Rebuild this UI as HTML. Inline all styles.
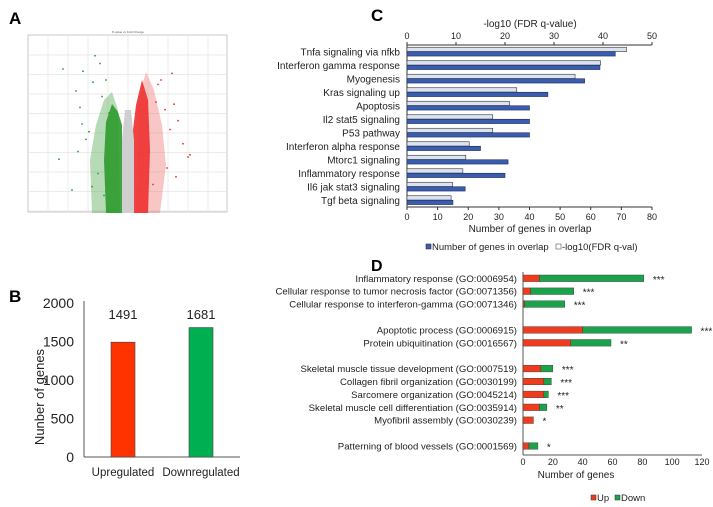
<!DOCTYPE html>
<html><head><meta charset="utf-8"><style>
body{margin:0;background:#fff;width:713px;height:507px;overflow:hidden;font-family:"Liberation Sans",Arial,sans-serif}
svg{display:block}
</style></head><body>
<svg id="s" width="713" height="507" viewBox="0 0 713 507" xmlns="http://www.w3.org/2000/svg" font-family="Liberation Sans, Arial, sans-serif">
<text x="9" y="24" font-size="17" font-weight="bold">A</text>
<text x="9" y="302" font-size="17" font-weight="bold">B</text>
<text x="371" y="21" font-size="17" font-weight="bold">C</text>
<text x="371" y="271" font-size="16" font-weight="bold">D</text>
<g id="gA"></g>
<g id="gB"></g>
<g id="gC"></g>
<g id="gD"></g>
</svg>
<script>
// ---- Panel B data
const bCats=["Upregulated","Downregulated"];
const bVals=[1491,1681];
const bTicks=[0,500,1000,1500,2000];
// ---- Panel C data
const cCats=["Tnfa signaling via nfkb","Interferon gamma response","Myogenesis","Kras signaling up","Apoptosis","Il2 stat5 signaling","P53 pathway","Interferon alpha response","Mtorc1 signaling","Inflammatory response","Il6 jak stat3 signaling","Tgf beta signaling"];
const cGenes=[68,63,58,46,40,40,40,24,33,32,19,15];
const cFdr=[44.8,39.5,34.3,22.4,20.9,17.5,17.5,12.7,12,11.4,9.3,9.0];
const cTopTicks=[0,10,20,30,40,50];
const cBotTicks=[0,10,20,30,40,50,60,70,80];
// ---- Panel D data
const dCats=["Inflammatory response (GO:0006954)","Cellular response to tumor necrosis factor (GO:0071356)","Cellular response to interferon-gamma (GO:0071346)","Apoptotic process (GO:0006915)","Protein ubiquitination (GO:0016567)","Skeletal muscle tissue development (GO:0007519)","Collagen fibril organization (GO:0030199)","Sarcomere organization (GO:0045214)","Skeletal muscle cell differentiation (GO:0035914)","Myofibril assembly (GO:0030239)","Patterning of blood vessels (GO:0001569)"];
const dUp=[11,5,1,40,32,12,14,14,11,7,4];
const dDown=[70,29,27,73,27,8,5,3,5,0,6];
const dStars=["***","***","***","***","**","***","***","***","**","*","*"];
const dSlot=[0,1,2,4,5,7,8,9,10,11,13];
const dTicks=[0,20,40,60,80,100,120];
// ---- Panel A outliers (log2FC, -log10 p)
const aGreenX=[-6.5,-4.5,-3.3,-5.2,-4.8,-2.2,-4.6,-2.8,-6.9,-5.6,-3.9,-3.5,-5.0,-2.6,-4.2,-3.0,-2.4,-1.9,-3.6];
const aGreenY=[13,12.8,14.2,11,9.5,12,8,13.5,4.8,2,7.3,11.8,5.5,10.5,6.6,3.5,1.5,9.0,2.3];
const aRedX=[4.4,3.7,5.0,4.2,6.2,6.0,3.0,4.8,3.3,5.5,2.8,3.9,4.6,2.5];
const aRedY=[12.6,9.3,8.3,7.5,5.2,5.0,11.6,3.2,12,6.2,10,4.0,9.8,2.5];

const NS="http://www.w3.org/2000/svg";
function el(p,t,a,txt){const e=document.createElementNS(NS,t);for(const k in a)e.setAttribute(k,a[k]);if(txt!==undefined)e.textContent=txt;p.appendChild(e);return e;}

// ===== Panel A
(function(){
const g=document.getElementById('gA');
const L=28,R=227,T=35,B=212;
const r=el(g,'rect',{x:L,y:T,width:R-L,height:B-T,fill:'#fff',stroke:'#bbb','stroke-width':0.8});

for(let x=L+20;x<R;x+=20)el(g,'line',{x1:x,y1:T,x2:x,y2:B,stroke:'#e4e4e4','stroke-width':0.7});
for(let y=T+20;y<B;y+=19.5)el(g,'line',{x1:L,y1:y,x2:R,y2:y,stroke:'#e4e4e4','stroke-width':0.7});
const t=el(g,'text',{x:128,y:33,'font-size':3,'text-anchor':'middle',fill:'#555'},'P-value vs Fold Change');

const xs=x=>128+x*10, ys=y=>B-y*11;
el(g,'path',{d:'M120,213 L118,110 L112,92 L104,100 L96,125 L90,160 L92,213 Z',fill:'#5fae5f',opacity:0.45});
el(g,'path',{d:'M136,213 L138,100 L146,72 L154,90 L162,125 L166,165 L160,213 Z',fill:'#f07070',opacity:0.4});
el(g,'path',{d:'M122,213 L122,125 L118,112 L112,104 L106,122 L104,160 L106,213 Z',fill:'#2e9a2e',opacity:0.9});
el(g,'path',{d:'M133,213 L133,130 L136,105 L142,80 L148,100 L150,150 L148,213 Z',fill:'#ee3030',opacity:0.9});
el(g,'path',{d:'M122,213 L122,140 L125,110 L131,110 L134,140 L134,213 Z',fill:'#cfcfcf'});
for(let i=0;i<aGreenX.length;i++){const c=el(g,'circle',{cx:xs(aGreenX[i]),cy:ys(aGreenY[i]),r:0.9,fill:'#2e9a2e'});}
for(let i=0;i<aRedX.length;i++){const c=el(g,'circle',{cx:xs(aRedX[i]),cy:ys(aRedY[i]),r:0.9,fill:'#e83030'});}
})();

// ===== Panel B
(function(){
const g=document.getElementById('gB');
const x0=84,y0=457,yT=303,max=2000;
const Y=v=>y0-(v/max)*(y0-yT);
el(g,'line',{x1:x0,y1:yT-2,x2:x0,y2:y0,stroke:'#555','stroke-width':1});
el(g,'line',{x1:x0,y1:y0,x2:240,y2:y0,stroke:'#555','stroke-width':1});
bTicks.forEach(v=>{const t=el(g,'text',{x:74,y:Y(v)+5,'font-size':14,'text-anchor':'end',fill:'#222'},v);});
const yt=el(g,'text',{x:0,y:0,'font-size':13,'text-anchor':'middle',transform:'translate(44,397) rotate(-90)',fill:'#222'},'Nunber of genes');

const cols=['#ff3300','#00b050'];const cx=[123,201];
bCats.forEach((c,i)=>{
 const b=el(g,'rect',{x:cx[i]-12,y:Y(bVals[i]),width:24,height:y0-Y(bVals[i]),fill:cols[i],stroke:'#444','stroke-width':0.6});
 
 const v=el(g,'text',{x:cx[i],y:319,'font-size':13,'text-anchor':'middle',fill:'#222'},bVals[i]);
 
 const l=el(g,'text',{x:cx[i],y:476,'font-size':11.5,'text-anchor':'middle',fill:'#222'},c);
 
});
})();

// ===== Panel C
(function(){
const g=document.getElementById('gC');
const x0=407,x1=652,yTop=45,yBot=207;
const XT=v=>x0+v/50*(x1-x0), XB=v=>x0+v/80*(x1-x0);
const step=(yBot-yTop)/12;
el(g,'line',{x1:x0,y1:yTop,x2:x1,y2:yTop,stroke:'#333','stroke-width':1});
el(g,'line',{x1:x0,y1:yBot,x2:x1,y2:yBot,stroke:'#333','stroke-width':1});
el(g,'line',{x1:x0,y1:yTop,x2:x0,y2:yBot,stroke:'#333','stroke-width':1});
cTopTicks.forEach(v=>{el(g,'line',{x1:XT(v),y1:yTop-3,x2:XT(v),y2:yTop,stroke:'#333'});const t=el(g,'text',{x:XT(v),y:yTop-6,'font-size':9,'text-anchor':'middle',fill:'#222'},v);});
cBotTicks.forEach(v=>{el(g,'line',{x1:XB(v),y1:yBot,x2:XB(v),y2:yBot+3,stroke:'#333'});const t=el(g,'text',{x:XB(v),y:yBot+13,'font-size':9,'text-anchor':'middle',fill:'#222'},v);});
let t=el(g,'text',{x:530,y:27,'font-size':10,'text-anchor':'middle',fill:'#222'},'-log10 (FDR q-value)');
t=el(g,'text',{x:530,y:232,'font-size':10,'text-anchor':'middle',fill:'#222'},'Number of genes in overlap');
cCats.forEach((c,i)=>{
 const yc=yTop+step*(i+0.5);
 const a=el(g,'rect',{x:x0,y:yc-4.5,width:XT(cFdr[i])-x0,height:4.3,fill:'#dce3f0',stroke:'#333','stroke-width':0.6});
 
 const b=el(g,'rect',{x:x0,y:yc,width:XB(cGenes[i])-x0,height:4.3,fill:'#3a5db0',stroke:'#1e2f5a','stroke-width':0.6});
 
 const l=el(g,'text',{x:400,y:yc+3.5,'font-size':10,'text-anchor':'end',fill:'#222'},c);
 
});
let r=el(g,'rect',{x:426,y:244,width:5,height:5,fill:'#3a5db0',stroke:'#333','stroke-width':0.6});
t=el(g,'text',{x:432,y:250,'font-size':9.5,fill:'#222'},'Number of genes in overlap');
r=el(g,'rect',{x:556,y:244,width:5,height:5,fill:'#fff',stroke:'#555','stroke-width':0.6});
t=el(g,'text',{x:562,y:250,'font-size':9.5,fill:'#222'},'-log10(FDR q-val)');
})();

// ===== Panel D
(function(){
const g=document.getElementById('gD');
const x0=523,x1=702,max=120,yA=272,yB=455;
const X=v=>x0+v/max*(x1-x0);
const Yc=s=>278.3+s*12.9;
el(g,'line',{x1:x0,y1:yA,x2:x0,y2:yB,stroke:'#555','stroke-width':1});
el(g,'line',{x1:x0,y1:yB,x2:x1,y2:yB,stroke:'#555','stroke-width':1});
dTicks.forEach(v=>{const t=el(g,'text',{x:X(v),y:465,'font-size':9,'text-anchor':'middle',fill:'#222'},v);});
let t=el(g,'text',{x:576,y:478,'font-size':10,'text-anchor':'middle',fill:'#222'},'Number of genes');
dCats.forEach((c,i)=>{
 const yc=Yc(dSlot[i]);
 const u=el(g,'rect',{x:x0,y:yc-3.3,width:X(dUp[i])-x0,height:6.6,fill:'#f03c1e',stroke:'#333','stroke-width':0.4});
 
 if(dDown[i]>0){const d=el(g,'rect',{x:X(dUp[i]),y:yc-3.3,width:X(dUp[i]+dDown[i])-X(dUp[i]),height:6.6,fill:'#1aa34a',stroke:'#333','stroke-width':0.4});
 }
 const s=el(g,'text',{x:X(dUp[i]+dDown[i])+9,y:yc+4.5,'font-size':10,fill:'#222'},dStars[i]);
 
 const l=el(g,'text',{x:517,y:yc+3.5,'font-size':9.6,'text-anchor':'end',fill:'#222'},c);
 
});
let r=el(g,'rect',{x:591,y:495,width:5,height:5,fill:'#f03c1e',stroke:'#333','stroke-width':0.5});
t=el(g,'text',{x:597,y:501,'font-size':9.5,fill:'#222'},'Up');
r=el(g,'rect',{x:615,y:495,width:5,height:5,fill:'#1aa34a',stroke:'#333','stroke-width':0.5});
t=el(g,'text',{x:621,y:501,'font-size':9.5,fill:'#222'},'Down');
})();
</script>
</body></html>
